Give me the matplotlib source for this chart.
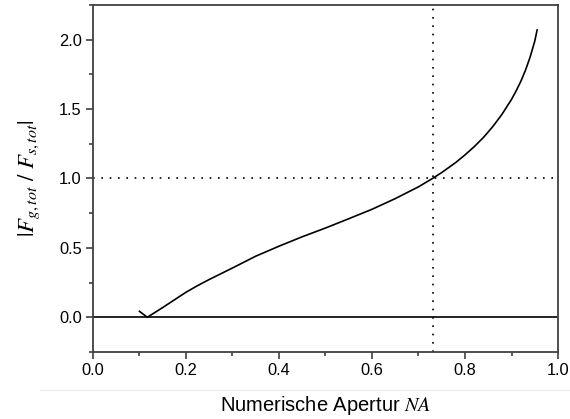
import numpy as np
import matplotlib.pyplot as plt
from matplotlib.lines import Line2D
from matplotlib.ticker import MultipleLocator

# Werte
na = [0.10, 0.117, 0.15, 0.175, 0.20, 0.225, 0.25, 0.30, 0.35, 0.40, 0.45,
      0.50, 0.55, 0.60, 0.65, 0.70, 0.73, 0.75, 0.78, 0.80, 0.82, 0.84, 0.86,
      0.88, 0.90, 0.91, 0.92, 0.93, 0.94, 0.95, 0.955]
ratio = [0.043, 0.0, 0.07, 0.125, 0.18, 0.228, 0.272, 0.355, 0.44, 0.512, 0.58,
         0.643, 0.71, 0.778, 0.855, 0.94, 1.0, 1.043, 1.115, 1.17, 1.23, 1.297, 1.375,
         1.465, 1.57, 1.632, 1.70, 1.78, 1.875, 1.99, 2.07]
na_cross = 0.731
ratio_ref = 1.0

plt.rcParams['font.family'] = ['Liberation Sans', 'DejaVu Sans']
plt.rcParams['mathtext.fontset'] = 'stix'

fig = plt.figure(figsize=(5.7, 4.19), dpi=100)
ax = fig.add_axes([0.163, 0.16, 0.816, 0.828])

ax.plot(na, ratio, color='black', lw=1.2)
ax.axhline(0, color='black', lw=1.2)
ax.axhline(ratio_ref, color='black', lw=1.2, linestyle=(0, (1, 4)))
ax.axvline(na_cross, color='black', lw=1.2, linestyle=(0, (1, 4)))

ax.set_xlim(0, 1.0)
ax.set_ylim(-0.25, 2.25)
ax.xaxis.set_major_locator(MultipleLocator(0.2))
ax.xaxis.set_minor_locator(MultipleLocator(0.1))
ax.yaxis.set_major_locator(MultipleLocator(0.5))
ax.yaxis.set_minor_locator(MultipleLocator(0.25))

for s in ax.spines.values():
    s.set_color('#404040')
    s.set_linewidth(1.3)
ax.tick_params(which='major', length=5, width=1.2, color='#404040',
               labelsize=11.8, pad=3)
ax.tick_params(which='minor', length=3, width=1.2, color='#404040')

ax.set_ylabel(r'$|F_{g,tot}\ /\ F_{s,tot}|$', fontsize=16.5, labelpad=12)
fig.text(0.571, 0.033, 'Numerische Apertur $NA$', ha='center', va='center',
         fontsize=14.5)

# leichte Trennlinie unter der Achse
fig.add_artist(Line2D([0.07, 1.0], [0.07, 0.07], color='#eeeeee', lw=1))

fig.savefig('out.png', dpi=100)
